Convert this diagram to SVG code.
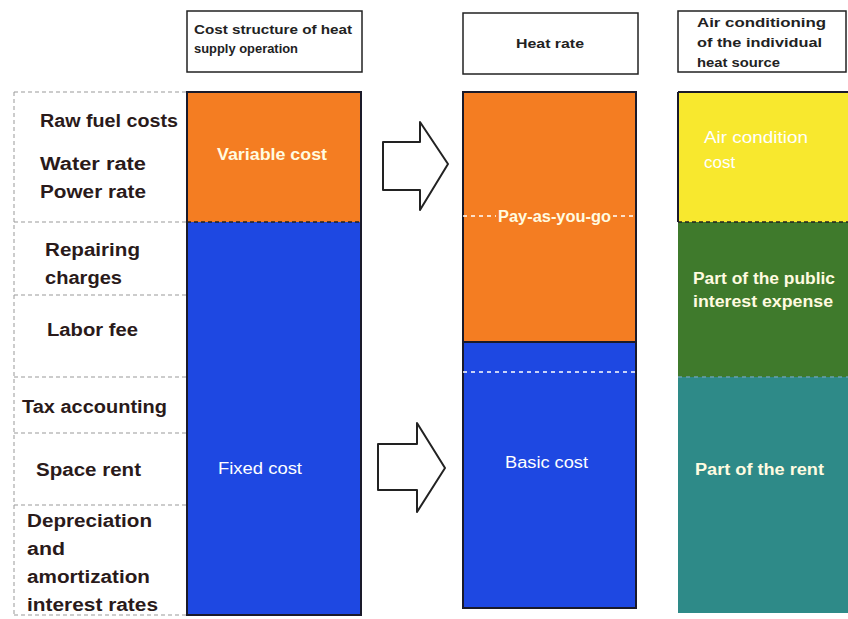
<svg xmlns="http://www.w3.org/2000/svg" width="848" height="619" viewBox="0 0 848 619">
<style>
.hdr{fill:#fff;stroke:#222;stroke-width:1.5}
.ht{font-family:"Liberation Sans",Arial,sans-serif;font-size:12px;fill:#222;font-weight:bold}
.lbl{font-family:"Liberation Sans",Arial,sans-serif;font-size:18px;font-weight:bold;fill:#2a1a1a}
.in{font-family:"Liberation Sans",Arial,sans-serif;font-size:16px;fill:#fff}
.inb{font-family:"Liberation Sans",Arial,sans-serif;font-size:16px;font-weight:bold;fill:#fffbe0}
.blk{stroke:#1a1a2a;stroke-width:2}
.dash{stroke:#999;stroke-width:1;stroke-dasharray:4 3;fill:none}
.wdash{stroke:#fff;stroke-width:1.5;stroke-dasharray:4 4;fill:none}
.kdash{stroke:#222;stroke-width:1.5;stroke-dasharray:4 3;fill:none}
.arrow{fill:#fff;stroke:#222;stroke-width:2;stroke-linejoin:round}
</style>
<rect width="848" height="619" fill="#fff"/>

<g id="left-labels">
<path class="dash" d="M14 92 H186 M14 222 H186 M14 295 H186 M14 377 H186 M14 433 H186 M14 505 H186 M14 615 H186 M14 92 V615"/>
<text class="lbl" x="40" y="127" textLength="138" lengthAdjust="spacingAndGlyphs">Raw fuel costs</text>
<text class="lbl" x="40" y="170" textLength="106" lengthAdjust="spacingAndGlyphs">Water rate</text>
<text class="lbl" x="40" y="198" textLength="106" lengthAdjust="spacingAndGlyphs">Power rate</text>
<text class="lbl" x="45" y="256" textLength="95" lengthAdjust="spacingAndGlyphs">Repairing</text>
<text class="lbl" x="45" y="284" textLength="77" lengthAdjust="spacingAndGlyphs">charges</text>
<text class="lbl" x="47" y="336" textLength="91" lengthAdjust="spacingAndGlyphs">Labor fee</text>
<text class="lbl" x="22" y="413" textLength="145" lengthAdjust="spacingAndGlyphs">Tax accounting</text>
<text class="lbl" x="36" y="476" textLength="105" lengthAdjust="spacingAndGlyphs">Space rent</text>
<text class="lbl" x="27" y="527" textLength="125" lengthAdjust="spacingAndGlyphs">Depreciation</text>
<text class="lbl" x="27" y="555" textLength="38" lengthAdjust="spacingAndGlyphs">and</text>
<text class="lbl" x="27" y="583" textLength="123" lengthAdjust="spacingAndGlyphs">amortization</text>
<text class="lbl" x="27" y="611" textLength="131" lengthAdjust="spacingAndGlyphs">interest rates</text>
</g>

<g id="header-1">
<rect class="hdr" x="187" y="11" width="175" height="61"/>
<text class="ht" x="194" y="34" textLength="158" lengthAdjust="spacingAndGlyphs">Cost structure of heat</text>
<text class="ht" x="194" y="53" textLength="104" lengthAdjust="spacingAndGlyphs">supply operation</text>
</g>
<g id="header-2">
<rect class="hdr" x="463" y="13" width="175" height="61"/>
<text class="ht" x="516" y="48" textLength="68" lengthAdjust="spacingAndGlyphs">Heat rate</text>
</g>
<g id="header-3">
<rect class="hdr" x="678" y="11" width="168" height="61"/>
<text class="ht" x="697" y="27" textLength="129" lengthAdjust="spacingAndGlyphs">Air conditioning</text>
<text class="ht" x="697" y="47" textLength="125" lengthAdjust="spacingAndGlyphs">of the individual</text>
<text class="ht" x="697" y="67" textLength="83" lengthAdjust="spacingAndGlyphs">heat source</text>
</g>

<g id="col-1">
<rect x="187" y="92" width="174" height="130" fill="#f47d22"/>
<rect x="187" y="222" width="174" height="393" fill="#1e48e2"/>
<rect class="blk" x="187" y="92" width="174" height="523" fill="none"/>
<path class="kdash" d="M187 222 H361"/>
<text class="inb" x="217" y="160" textLength="110" lengthAdjust="spacingAndGlyphs">Variable cost</text>
<text class="in" x="218" y="474" textLength="84" lengthAdjust="spacingAndGlyphs">Fixed cost</text>
</g>

<g id="col-2">
<rect x="463" y="92" width="173" height="250" fill="#f47d22"/>
<rect x="463" y="342" width="173" height="266" fill="#1e48e2"/>
<path class="blk" d="M463 342 H636"/>
<rect class="blk" x="463" y="92" width="173" height="516" fill="none"/>
<path class="wdash" d="M463 216 H496 M613 216 H636 M463 372 H636"/>
<text class="inb" x="498" y="222" textLength="113" lengthAdjust="spacingAndGlyphs">Pay-as-you-go</text>
<text class="in" x="505" y="468" textLength="83" lengthAdjust="spacingAndGlyphs">Basic cost</text>
</g>

<g id="col-3">
<rect x="678" y="92" width="170" height="130" fill="#f8e82e"/>
<rect x="678" y="222" width="170" height="155" fill="#3f7a2c"/>
<rect x="678" y="377" width="170" height="236" fill="#2e8a88"/>
<path class="blk" d="M678 92 H848 M678 92 V222"/>
<path class="kdash" d="M678 222 H848"/>
<path class="wdash" d="M678 377 H848" style="stroke:#6aa0b0"/>
<text class="in" x="704" y="143" fill="#fffbd8" style="font-size:17px" textLength="104" lengthAdjust="spacingAndGlyphs">Air condition</text>
<text class="in" x="704" y="168" fill="#fffbd8" style="font-size:17px">cost</text>
<text class="inb" x="693" y="284" textLength="142" lengthAdjust="spacingAndGlyphs">Part of the public</text>
<text class="inb" x="693" y="307" textLength="140" lengthAdjust="spacingAndGlyphs">interest expense</text>
<text class="inb" x="695" y="475" textLength="129" lengthAdjust="spacingAndGlyphs">Part of the rent</text>
</g>

<g id="connectors">
<path class="arrow" d="M383 142 H420 V122 L448 164 L420 210 V190 H383 Z"/>
<path class="arrow" d="M378 444 H417 V423 L445 468 L417 512 V490 H378 Z"/>
</g>
</svg>
